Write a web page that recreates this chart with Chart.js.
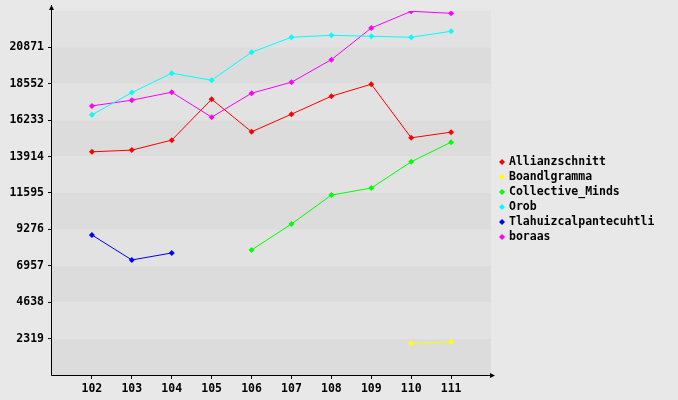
<!DOCTYPE html>
<html>
<head>
<meta charset="utf-8">
<script src="https://cdn.jsdelivr.net/npm/chart.js@4/dist/chart.umd.min.js"></script>
<style>
html,body{margin:0;padding:0;background:#e8e8e8;}
canvas{display:block;}
</style>
</head>
<body>
<canvas id="c" width="678" height="400"></canvas>
<script>
const categories = [102, 103, 104, 105, 106, 107, 108, 109, 110, 111];
const allianzschnitt = [14215, 14323, 14959, 17566, 15487, 16612, 17757, 18520, 15105, 15468];
const boandlgramma = [null, null, null, null, null, null, null, null, 2022, 2112];
const collectiveMinds = [null, null, null, null, 7963, 9616, 11461, 11906, 13579, 14832];
const orob = [16568, 17986, 19220, 18775, 20556, 21510, 21637, 21573, 21510, 21891];
const tlahuiz = [8917, 7327, 7772, null, null, null, null, null, null, null];
const boraas = [17140, 17503, 18012, 16422, 17948, 18648, 20085, 22101, 23163, 23036];
const yTickStep = 2319;
const yMax = 23190;

const seriesNames = ['Allianzschnitt', 'Boandlgramma', 'Collective_Minds', 'Orob', 'Tlahuizcalpantecuhtli', 'boraas'];
const seriesData = [allianzschnitt, boandlgramma, collectiveMinds, orob, tlahuiz, boraas];
const seriesColors = ['#ff0000', '#ffff00', '#00ff00', '#00ffff', '#0000ff', '#ff00ff'];

const FONT = '"DejaVu Sans Mono", "Liberation Mono", monospace';

const datasets = seriesNames.map((name, i) => ({
  label: name,
  data: categories.map((x, j) => ({ x: x, y: seriesData[i][j] })),
  borderColor: seriesColors[i],
  backgroundColor: seriesColors[i],
  borderWidth: 1,
  pointStyle: 'rectRot',
  pointRadius: 3,
  pointBorderWidth: 0,
  pointHoverRadius: 3,
  spanGaps: false,
  tension: 0
}));

const bandsPlugin = {
  id: 'bands',
  beforeDraw(chart) {
    const { ctx, chartArea: a, scales: { y } } = chart;
    ctx.save();
    for (let v = 0, k = 0; v < yMax; v += yTickStep, k++) {
      const y1 = y.getPixelForValue(v);
      const y2 = y.getPixelForValue(v + yTickStep);
      ctx.fillStyle = (k % 2 === 0) ? '#dcdcdc' : '#e2e2e2';
      ctx.fillRect(a.left, y2, a.right - a.left, y1 - y2);
    }
    ctx.restore();
  }
};

const axesPlugin = {
  id: 'axesArrows',
  afterDraw(chart) {
    const { ctx, chartArea: a } = chart;
    ctx.save();
    ctx.strokeStyle = '#000';
    ctx.fillStyle = '#000';
    ctx.lineWidth = 1;
    const x0 = Math.round(a.left) - 0.5;
    const y0 = Math.round(a.bottom) + 0.5;
    ctx.beginPath();
    ctx.moveTo(x0, y0);
    ctx.lineTo(x0, 5);
    ctx.moveTo(x0, y0);
    ctx.lineTo(a.right + 3, y0);
    ctx.stroke();
    ctx.beginPath();
    ctx.moveTo(x0, 5);
    ctx.lineTo(x0 - 2.5, 10);
    ctx.lineTo(x0 + 2.5, 10);
    ctx.closePath();
    ctx.fill();
    ctx.beginPath();
    ctx.moveTo(a.right + 4, y0);
    ctx.lineTo(a.right - 1, y0 - 2.5);
    ctx.lineTo(a.right - 1, y0 + 2.5);
    ctx.closePath();
    ctx.fill();

    ctx.font = 'bold 11.5px ' + FONT;
    ctx.textBaseline = 'middle';
    ctx.textAlign = 'left';
    seriesNames.forEach((name, i) => {
      const ly = 162 + i * 15;
      const lx = 502;
      ctx.fillStyle = seriesColors[i];
      ctx.beginPath();
      ctx.moveTo(lx, ly - 3);
      ctx.lineTo(lx + 3, ly);
      ctx.lineTo(lx, ly + 3);
      ctx.lineTo(lx - 3, ly);
      ctx.closePath();
      ctx.fill();
      ctx.fillStyle = '#000';
      ctx.fillText(name, 509, ly + 0.5);
    });
    ctx.restore();
  }
};

new Chart(document.getElementById('c'), {
  type: 'line',
  data: { datasets },
  plugins: [bandsPlugin, axesPlugin],
  options: {
    responsive: false,
    animation: false,
    events: [],
    layout: { padding: { left: 0, right: 187, top: 10, bottom: 0 } },
    plugins: { legend: { display: false }, tooltip: { enabled: false } },
    scales: {
      x: {
        type: 'linear',
        min: 101,
        max: 112,
        afterFit(s) { s.height = 25; },
        afterBuildTicks(s) { s.ticks = []; for (let v = 101; v <= 112; v++) s.ticks.push({ value: v }); },
        ticks: {
          stepSize: 1,
          autoSkip: false,
          maxRotation: 0,
          padding: 3,
          color: '#000',
          font: { family: FONT, size: 11.5, weight: 'bold' },
          callback: (v) => (v >= categories[0] && v <= categories[categories.length - 1]) ? String(v) : ''
        },
        grid: {
          drawOnChartArea: false,
          tickLength: 4,
          tickColor: (c) => (c.tick && c.tick.value >= categories[0] && c.tick.value <= categories[categories.length - 1]) ? '#000' : 'rgba(0,0,0,0)'
        },
        border: { display: false }
      },
      y: {
        type: 'linear',
        min: 0,
        max: yMax,
        afterFit(s) { s.width = 52; },
        afterBuildTicks(s) { s.ticks = []; for (let v = 0; v <= yMax; v += yTickStep) s.ticks.push({ value: v }); },
        ticks: {
          stepSize: yTickStep,
          autoSkip: false,
          padding: 4,
          color: '#000',
          font: { family: FONT, size: 11.5, weight: 'bold' },
          callback: (v) => (v > 0 && v < yMax) ? String(v) : ''
        },
        grid: {
          drawOnChartArea: false,
          tickLength: 4,
          tickColor: (c) => (c.tick && c.tick.value > 0 && c.tick.value < yMax) ? '#000' : 'rgba(0,0,0,0)'
        },
        border: { display: false }
      }
    }
  }
});
</script>
</body>
</html>
